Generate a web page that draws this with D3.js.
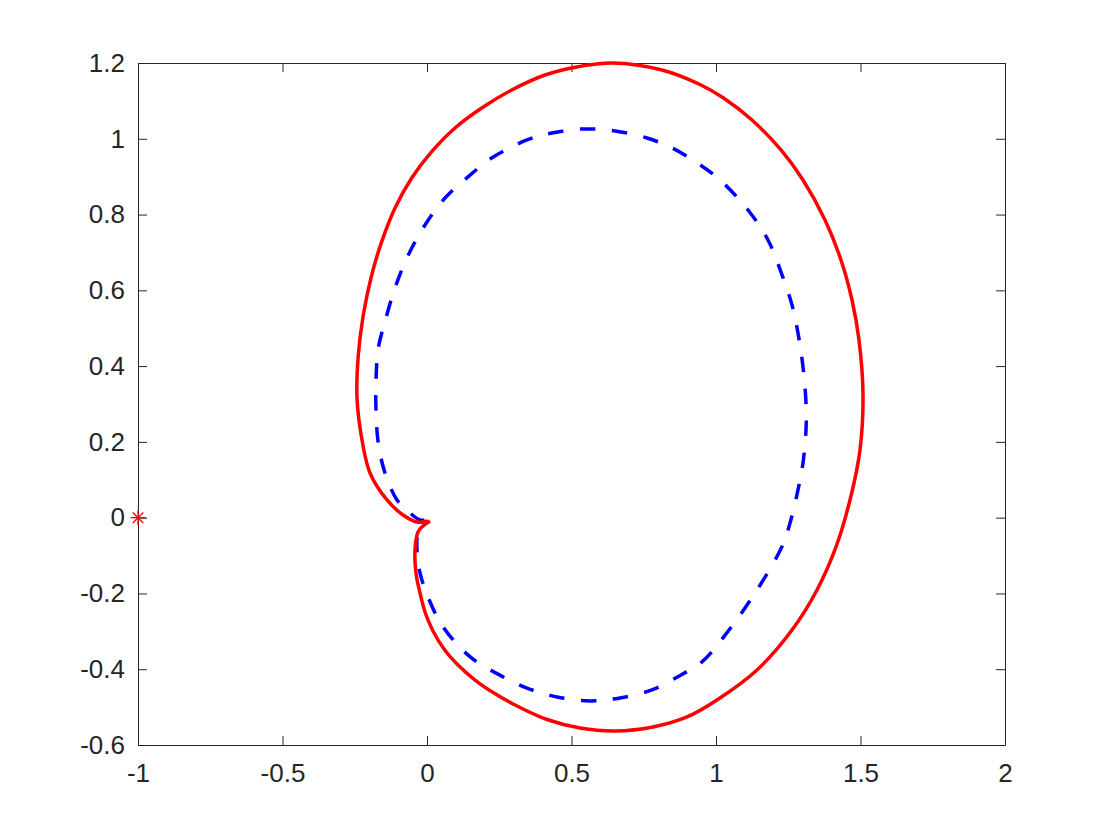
<!DOCTYPE html>
<html><head><meta charset="utf-8">
<script src="https://cdn.jsdelivr.net/npm/d3@7"></script>
<style>body{margin:0;background:#fff}svg{display:block}</style>
</head><body>
<script>
const redRe = [0.0104,-0.0138,-0.0311,-0.0415,-0.0381,-0.0242,-0.0069,0.0208,0.0588,0.1073,0.1661,0.2318,0.3045,0.4152,0.5294,0.6505,0.7820,0.8997,1.0138,1.1419,1.2630,1.3495,1.4152,1.4637,1.4983,1.5087,1.4948,1.4706,1.4325,1.3772,1.3010,1.2249,1.1246,1.0260,0.9481,0.8131,0.6401,0.5225,0.4083,0.2931,0.1893,0.0969,0.0163,-0.0529,-0.1107,-0.1567,-0.1913,-0.2204,-0.2377,-0.2422,-0.2249,-0.1972,-0.1384,-0.0830,-0.0346,0.0035];
const redIm = [-0.0087,-0.0219,-0.0377,-0.0852,-0.1459,-0.1987,-0.2490,-0.2992,-0.3467,-0.3889,-0.4285,-0.4628,-0.4944,-0.5327,-0.5550,-0.5629,-0.5524,-0.5260,-0.4758,-0.4019,-0.2964,-0.1908,-0.0773,0.0467,0.1787,0.3238,0.4690,0.5745,0.6801,0.7857,0.8913,0.9704,1.0496,1.1077,1.1420,1.1816,1.2001,1.1903,1.1684,1.1288,1.0813,1.0285,0.9660,0.8966,0.8174,0.7284,0.6406,0.5350,0.4294,0.3160,0.2051,0.1180,0.0467,0.0071,-0.0113,-0.0087];
const blueRe = [-0.0346,-0.0346,-0.0242,0.0035,0.0450,0.1003,0.1592,0.2457,0.3460,0.4498,0.5640,0.6678,0.7785,0.8789,0.9516,1.0450,1.1419,1.2284,1.2561,1.2837,1.3010,1.3114,1.3114,1.3010,1.2837,1.2630,1.2284,1.1799,1.1107,1.0138,0.9308,0.8478,0.7612,0.6505,0.5398,0.4325,0.3460,0.2239,0.1429,0.0623,-0.0069,-0.0647,-0.1107,-0.1453,-0.1685,-0.1765,-0.1765,-0.1685,-0.1453,-0.1038,-0.0588,-0.0242,0.0035];
const blueIm = [-0.0510,-0.0852,-0.1459,-0.2093,-0.2755,-0.3310,-0.3733,-0.4129,-0.4498,-0.4731,-0.4836,-0.4757,-0.4546,-0.4150,-0.3807,-0.2964,-0.1908,-0.0763,-0.0140,0.0731,0.1444,0.2315,0.3027,0.3978,0.4875,0.5614,0.6406,0.7330,0.8121,0.8913,0.9383,0.9758,1.0021,1.0206,1.0259,1.0153,0.9969,0.9493,0.9000,0.8437,0.7725,0.6933,0.6062,0.5173,0.4479,0.3589,0.2842,0.1964,0.1180,0.0467,0.0124,-0.0061,-0.0061];
const criticalPoint = [[-1, 0]];
const xTicks = [-1,-0.5,0,0.5,1,1.5,2];
const yTicks = [-0.6,-0.4,-0.2,0,0.2,0.4,0.6,0.8,1,1.2];

const W = 1099, H = 828;
const L = 138, R = 1005, T = 63, B = 745;
const ink = "#262626";
const svg = d3.select("body").append("svg").attr("width", W).attr("height", H);
const x = d3.scaleLinear().domain([-1, 2]).range([L, R]);
const y = d3.scaleLinear().domain([-0.6, 1.2]).range([B, T]);

const fmt = d => String(d);
const font = "'Liberation Sans', Arial, sans-serif";

const tl = 9;
const gx = svg.append("g").attr("transform", `translate(0,${B})`)
  .call(d3.axisBottom(x).tickValues(xTicks).tickFormat(fmt).tickSizeInner(-tl).tickSizeOuter(0).tickPadding(19));
const gxt = svg.append("g").attr("transform", `translate(0,${T})`)
  .call(d3.axisTop(x).tickValues(xTicks).tickFormat("").tickSizeInner(-tl).tickSizeOuter(0));
const gy = svg.append("g").attr("transform", `translate(${L},0)`)
  .call(d3.axisLeft(y).tickValues(yTicks).tickFormat(fmt).tickSizeInner(-tl).tickSizeOuter(0).tickPadding(13));
const gyr = svg.append("g").attr("transform", `translate(${R},0)`)
  .call(d3.axisRight(y).tickValues(yTicks).tickFormat("").tickSizeInner(-tl).tickSizeOuter(0));
[gx, gxt, gy, gyr].forEach(g => {
  g.selectAll("path.domain").attr("stroke", ink).attr("stroke-width", 1);
  g.selectAll(".tick line").attr("stroke", ink).attr("stroke-width", 1);
  g.selectAll("text").attr("fill", ink).style("font-family", font).style("font-size", "26px");
});

const line = d3.line().x(d => x(d[0])).y(d => y(d[1])).curve(d3.curveCatmullRom.alpha(0.5));
const red = redRe.map((v, i) => [v, redIm[i]]);
const blue = blueRe.map((v, i) => [v, blueIm[i]]);

svg.append("path").datum(blue).attr("d", line).attr("fill", "none")
  .attr("stroke", "#0000ff").attr("stroke-width", 3.5).attr("stroke-dasharray", "15.5,16.5");
svg.append("path").datum(red).attr("d", line).attr("fill", "none")
  .attr("stroke", "#ff0000").attr("stroke-width", 3.5).attr("stroke-linejoin", "round");

// critical point marker (asterisk)
const s = 7.5;
criticalPoint.forEach(p => {
  const cx = x(p[0]), cy = y(p[1]);
  const g = svg.append("g").attr("stroke", "#ff0000").attr("stroke-width", 1.3);
  g.append("line").attr("x1", cx - s).attr("x2", cx + s).attr("y1", cy).attr("y2", cy);
  g.append("line").attr("x1", cx).attr("x2", cx).attr("y1", cy - s).attr("y2", cy + s);
  g.append("line").attr("x1", cx - s*0.7).attr("x2", cx + s*0.7).attr("y1", cy - s*0.7).attr("y2", cy + s*0.7);
  g.append("line").attr("x1", cx - s*0.7).attr("x2", cx + s*0.7).attr("y1", cy + s*0.7).attr("y2", cy - s*0.7);
});
</script>
</body></html>
